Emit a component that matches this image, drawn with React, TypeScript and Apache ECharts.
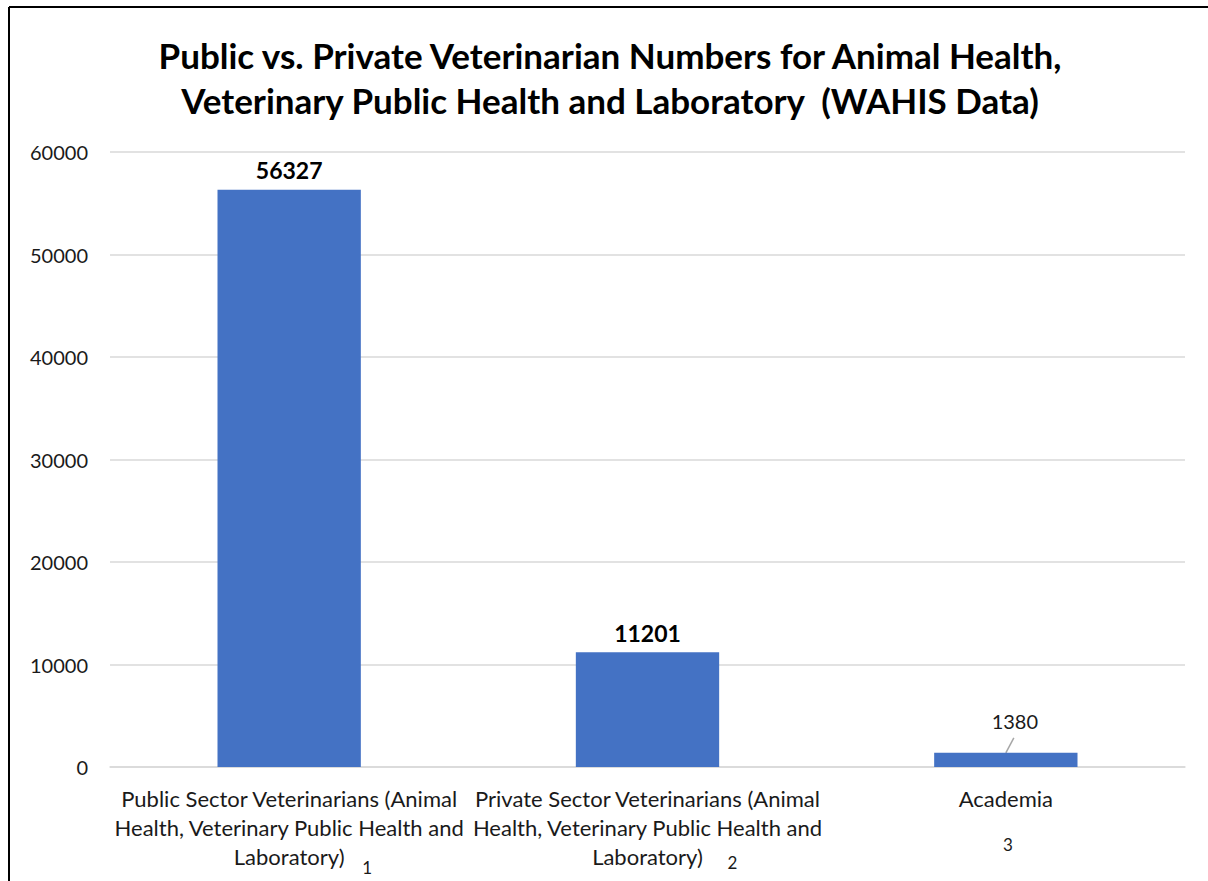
import React, { useEffect, useRef } from "react";
import * as echarts from "echarts";

const categories: string[] = [
  "Public Sector Veterinarians (Animal\nHealth, Veterinary Public Health and\nLaboratory)",
  "Private Sector Veterinarians (Animal\nHealth, Veterinary Public Health and\nLaboratory)",
  "Academia",
];
const values: number[] = [56327, 11201, 1380];
const footnotes: string[] = ["1", "2", "3"];
const titleText =
  "Public vs. Private Veterinarian Numbers for Animal Health,\nVeterinary Public Health and Laboratory  (WAHIS Data)";
const yMin = 0;
const yMax = 60000;
const yInterval = 10000;

const FONT = "Lato, 'Noto Sans', sans-serif";
const BAR_COLOR = "#4472C4";
const TEXT_COLOR = "#1a1a1a";
const GRID_COLOR = "#d9d9d9";

export default function App() {
  const ref = useRef<HTMLDivElement>(null);

  useEffect(() => {
    if (!ref.current) return;
    const chart = echarts.init(ref.current, undefined, { renderer: "svg" });

    const option: any = {
      animation: false,
      backgroundColor: "#ffffff",
      title: {
        text: titleText,
        left: 605,
        textAlign: "center",
        top: 27,
        textStyle: {
          fontFamily: FONT,
          fontSize: 35,
          fontWeight: "bold",
          lineHeight: 45,
          color: "#000000",
        },
      },
      grid: { left: 110, right: 23, top: 152, bottom: 114, containLabel: false },
      xAxis: {
        type: "category",
        data: categories,
        axisLine: { show: true, lineStyle: { color: GRID_COLOR, width: 1.5 } },
        axisTick: { show: false },
        axisLabel: {
          interval: 0,
          margin: 17,
          fontFamily: FONT,
          fontSize: 22,
          lineHeight: 29,
          color: TEXT_COLOR,
          align: "center",
        },
      },
      yAxis: {
        type: "value",
        min: yMin,
        max: yMax,
        interval: yInterval,
        axisLine: { show: false },
        axisTick: { show: false },
        splitLine: { show: true, lineStyle: { color: GRID_COLOR, width: 1.5 } },
        axisLabel: {
          margin: 22,
          fontFamily: FONT,
          fontSize: 20,
          color: TEXT_COLOR,
          formatter: (v: number) => String(v),
        },
      },
      series: [
        {
          type: "bar",
          barWidth: "40%",
          itemStyle: { color: BAR_COLOR },
          data: values.map((v, i) =>
            i < 2
              ? {
                  value: v,
                  label: {
                    show: true,
                    position: "top",
                    distance: 8,
                    fontFamily: FONT,
                    fontSize: 23,
                    fontWeight: "bold",
                    color: "#000000",
                  },
                }
              : {
                  value: v,
                  label: {
                    show: true,
                    position: "top",
                    distance: 6,
                    fontFamily: FONT,
                    fontSize: 20,
                    color: TEXT_COLOR,
                  },
                }
          ),
          labelLayout: (params: any) =>
            params.dataIndex === 2 ? { dx: 9, dy: -16 } : {},
        },
      ],
    };

    chart.setOption(option);

    const zeroY = chart.convertToPixel({ yAxisIndex: 0 }, 0) as number;
    const offsets = [
      { dx: 78, dy: 100 },
      { dx: 85, dy: 95 },
      { dx: 2, dy: 77 },
    ];
    const graphics: any[] = footnotes.map((t, i) => {
      const cx = chart.convertToPixel({ xAxisIndex: 0 }, i) as number;
      return {
        type: "text",
        x: cx + offsets[i].dx,
        y: zeroY + offsets[i].dy,
        style: {
          text: t,
          fontFamily: FONT,
          fontSize: 17,
          fill: TEXT_COLOR,
          align: "center",
          verticalAlign: "middle",
        },
      };
    });

    // leader line for the small Academia label
    const leadIdx = 2;
    const lx = chart.convertToPixel({ xAxisIndex: 0 }, leadIdx) as number;
    const ly = chart.convertToPixel({ yAxisIndex: 0 }, values[leadIdx]) as number;
    graphics.push({
      type: "line",
      shape: { x1: lx, y1: ly, x2: lx + 8, y2: ly - 15 },
      style: { stroke: "#a6a6a6", lineWidth: 1.5 },
    });

    graphics.push(
      {
        type: "line",
        shape: { x1: 9, y1: 7, x2: 1208, y2: 7 },
        style: { stroke: "#000000", lineWidth: 2 },
      },
      {
        type: "line",
        shape: { x1: 9, y1: 7, x2: 9, y2: 881 },
        style: { stroke: "#000000", lineWidth: 2 },
      }
    );
    chart.setOption({ graphic: graphics });

    return () => chart.dispose();
  }, []);

  return (
    <div
      ref={ref}
      style={{ position: "absolute", left: 0, top: 0, width: 1208, height: 881 }}
    />
  );
}
